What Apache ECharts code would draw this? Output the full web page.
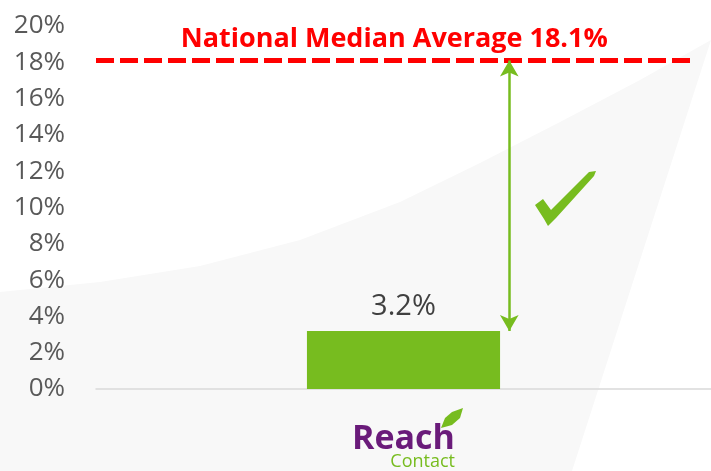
<!DOCTYPE html>
<html>
<head>
<meta charset="utf-8">
<script src="https://cdn.jsdelivr.net/npm/echarts@6/dist/echarts.min.js"></script>
<style>
html, body { margin: 0; padding: 0; background: #fff; }
#chart { width: 711px; height: 471px; }
</style>
</head>
<body>
<div id="chart"></div>
<script>
// data
const categories = ['Reach Contact'];
const rates = [3.2];
const nationalMedian = 18.1;
const medianLabel = 'National Median Average 18.1%';

// axis range (percent)
const yMin = 0;
const yMax = 20;
const yStep = 2;

// where the gap arrow and the median line sit across the plot (0..1 of width)
const arrowAcross = 0.672;
const medianFrom = 0;
const medianTo = 0.97;

const GREEN = '#77bc1f';
const RED = '#ff0000';

const chart = echarts.init(document.getElementById('chart'), null, { renderer: 'canvas' });

const option = {
    animation: false,
    grid: { left: 96, right: 0, top: 26, bottom: 82 },
    xAxis: [
        {
            type: 'category',
            data: categories,
            axisLine: { lineStyle: { color: '#d9d9d9', width: 1.5 } },
            axisTick: { show: false },
            axisLabel: {
                margin: 36,
                formatter: function (name) {
                    const parts = name.split(' ');
                    return '{r|' + parts[0] + '}\n{c|' + parts[1] + '}';
                },
                rich: {
                    r: { fontFamily: 'Open Sans', fontWeight: 'bold', fontSize: 34, color: '#6a1b7a', lineHeight: 28 },
                    c: { fontFamily: 'Open Sans', fontSize: 18, color: GREEN, lineHeight: 18, align: 'right' }
                }
            }
        },
        { type: 'value', min: 0, max: 1, show: false }
    ],
    yAxis: {
        type: 'value',
        min: yMin,
        max: yMax,
        interval: yStep,
        axisLine: { show: false },
        axisTick: { show: false },
        splitLine: { show: false },
        axisLabel: {
            margin: 31,
            formatter: '{value}%',
            fontFamily: 'Open Sans',
            fontSize: 26,
            color: '#595959'
        }
    },
    series: [
        {
            type: 'bar',
            data: rates,
            barWidth: '31.4%',
            itemStyle: { color: GREEN },
            z: 3,
            label: {
                show: true,
                position: 'top',
                distance: 10,
                formatter: '{c}%',
                fontFamily: 'Open Sans',
                fontSize: 29,
                color: '#404040'
            }
        },
        {
            // median line + gap arrow
            type: 'line',
            xAxisIndex: 1,
            data: [],
            z: 4,
            markLine: {
                silent: true,
                animation: false,
                data: [
                    [
                        {
                            coord: [medianFrom, nationalMedian],
                            symbol: 'none',
                            lineStyle: { color: RED, width: 5, type: [18, 6] },
                            label: {
                                show: true,
                                position: 'insideMiddleTop',
                                distance: 8,
                                formatter: medianLabel,
                                fontFamily: 'Open Sans',
                                fontWeight: 'bold',
                                fontSize: 27,
                                color: RED
                            }
                        },
                        { coord: [medianTo, nationalMedian], symbol: 'none' }
                    ],
                    [
                        {
                            coord: [arrowAcross, rates[0]],
                            symbol: 'arrow',
                            symbolSize: [14, 16],
                            lineStyle: { color: GREEN, width: 2.5, type: 'solid' },
                            label: { show: false }
                        },
                        { coord: [arrowAcross, nationalMedian], symbol: 'arrow', symbolSize: [14, 16] }
                    ]
                ]
            }
        }
    ],
    graphic: [
        {
            // soft grey swoosh in the background
            type: 'polygon',
            z: -10,
            silent: true,
            shape: {
                points: [[0, 292], [100, 282], [200, 266], [300, 240], [400, 202], [480, 163], [560, 122], [640, 80], [711, 40], [572, 471], [0, 471]]
            },
            style: { fill: '#f8f8f8' }
        },
        {
            // check mark
            type: 'polygon',
            z: 10,
            silent: true,
            shape: {
                points: [[535, 205], [543, 199], [551, 210], [589, 172], [596, 171], [594, 176], [556, 218], [548, 226], [544, 219]]
            },
            style: { fill: GREEN }
        },
        {
            // leaf of the logo
            type: 'polygon',
            z: 10,
            silent: true,
            shape: {
                points: [[441, 428], [445, 418], [452, 412], [463, 408], [460, 418], [452, 425]]
            },
            style: { fill: GREEN }
        }
    ]
};

chart.setOption(option);
</script>
</body>
</html>
